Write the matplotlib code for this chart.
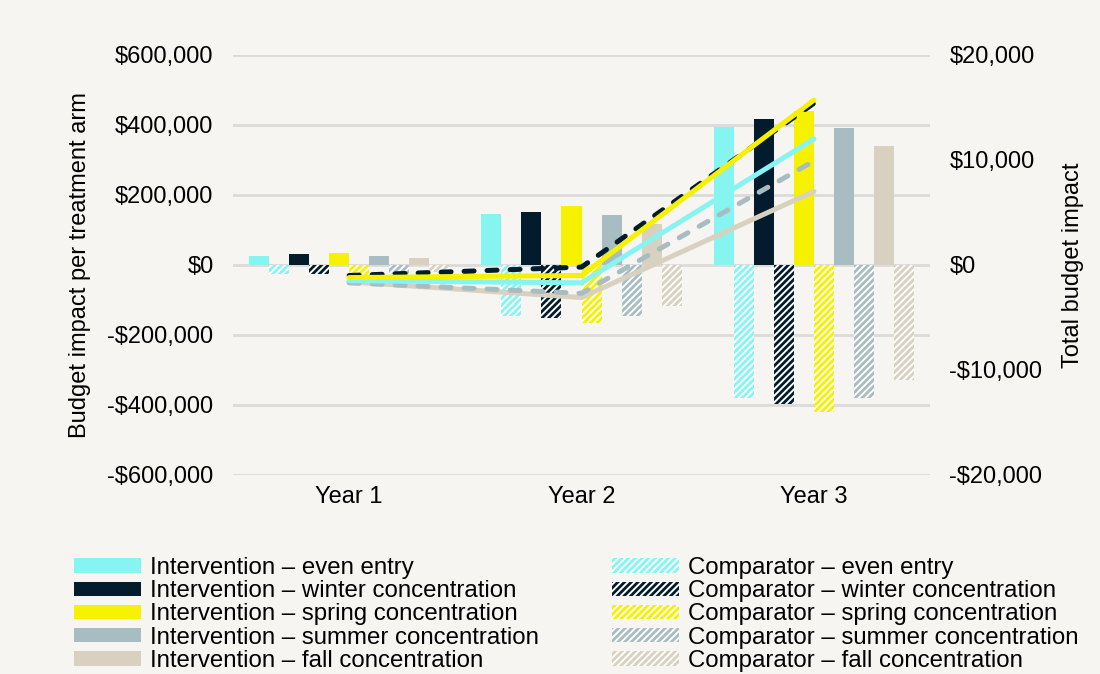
import numpy as np
import matplotlib.pyplot as plt
from matplotlib.ticker import FuncFormatter

plt.rcParams['font.family'] = ['Liberation Sans', 'DejaVu Sans']
plt.rcParams['hatch.linewidth'] = 2.0

years = ['Year 1', 'Year 2', 'Year 3']
scenarios = ['even entry', 'winter concentration', 'spring concentration',
             'summer concentration', 'fall concentration']
colors = ['#86f4f1', '#021c2d', '#f5f100', '#a7bdc2', '#d8d1c0']

# budget impact per treatment arm (bars, left axis)
interv_even = [27000, 146000, 394000]
interv_winter = [31000, 151000, 417000]
interv_spring = [34000, 169000, 440000]
interv_summer = [26000, 143000, 391000]
interv_fall = [20000, 117000, 340000]

comp_even = [-26000, -146000, -380000]
comp_winter = [-27000, -151000, -397000]
comp_spring = [-28000, -166000, -420000]
comp_summer = [-25000, -146000, -380000]
comp_fall = [-19000, -117000, -329000]

# total budget impact (lines, right axis)
total_even = [-1500, -1700, 12000]
total_winter = [-1000, -200, 15400]
total_spring = [-1200, -1000, 15700]
total_summer = [-1700, -2700, 9900]
total_fall = [-1600, -3100, 7000]

interv = [interv_even, interv_winter, interv_spring, interv_summer, interv_fall]
comp = [comp_even, comp_winter, comp_spring, comp_summer, comp_fall]
totals = [total_even, total_winter, total_spring, total_summer, total_fall]

bg = '#f6f5f1'
fig = plt.figure(figsize=(11, 6.74), dpi=100, facecolor=bg)
ax = fig.add_axes([0.2118, 0.2953, 0.6337, 0.6231])
ax.set_facecolor(bg)

x = np.arange(len(years))
w = 0.0862
h_int = []
h_comp = []
for i in range(5):
    b1 = ax.bar(x + (2 * i - 4.5) * w, interv[i], w, color=colors[i], linewidth=0,
                zorder=3, label='Intervention \u2013 ' + scenarios[i])
    b2 = ax.bar(x + (2 * i - 3.5) * w, comp[i], w, facecolor='white', edgecolor=colors[i],
                hatch='/////', linewidth=0, zorder=3, label='Comparator \u2013 ' + scenarios[i])
    h_int.append(b1)
    h_comp.append(b2)

ax.set_xlim(-0.5, 2.5)
ax.set_ylim(-600000, 600000)
ax.set_yticks(np.arange(-600000, 600001, 200000))
ax.set_xticks(x)
ax.set_xticklabels(years)

def money(v, pos):
    if v < 0:
        return '-${:,.0f}'.format(-v)
    return '${:,.0f}'.format(v)

ax.yaxis.set_major_formatter(FuncFormatter(money))
ax.grid(axis='y', color='#dcdbd9', linewidth=2, zorder=0)
ax.set_axisbelow(True)
for s in ax.spines.values():
    s.set_visible(False)
ax.tick_params(axis='y', length=0, pad=14, labelsize=17)
ax.tick_params(axis='x', length=0, pad=8, labelsize=17)
ax.set_ylabel('Budget impact per treatment arm', fontsize=17, labelpad=12)

ax2 = ax.twinx()
ax2.set_ylim(-20000, 20000)
ax2.set_yticks(np.arange(-20000, 20001, 10000))
ax2.yaxis.set_major_formatter(FuncFormatter(money))
for s in ax2.spines.values():
    s.set_visible(False)
ax2.tick_params(axis='y', length=0, pad=14, labelsize=17)
ax2.set_ylabel('Total budget impact', fontsize=17, labelpad=14)

# draw order: fall, summer, even, winter, spring
for i in [4, 3, 0, 1, 2]:
    if i in (1, 3):
        ln, = ax2.plot(x, totals[i], color=colors[i], linewidth=3.6,
                       dash_capstyle='round', solid_joinstyle='round')
        ln.set_dashes((2.0, 2.6))
    else:
        ax2.plot(x, totals[i], color=colors[i], linewidth=3.6,
                 solid_capstyle='round', solid_joinstyle='miter')

handles = h_int + h_comp
labels = [h.get_label() for h in handles]
fig.legend(handles, labels, loc='upper left', bbox_to_anchor=(0.067, 0.1735), ncol=2,
           frameon=False, fontsize=17.3, handlelength=2.8, handleheight=0.55,
           handletextpad=0.37, labelspacing=0.05, columnspacing=3.05,
           borderpad=0, borderaxespad=0)

fig.savefig('out.png', dpi=100, facecolor=bg)
